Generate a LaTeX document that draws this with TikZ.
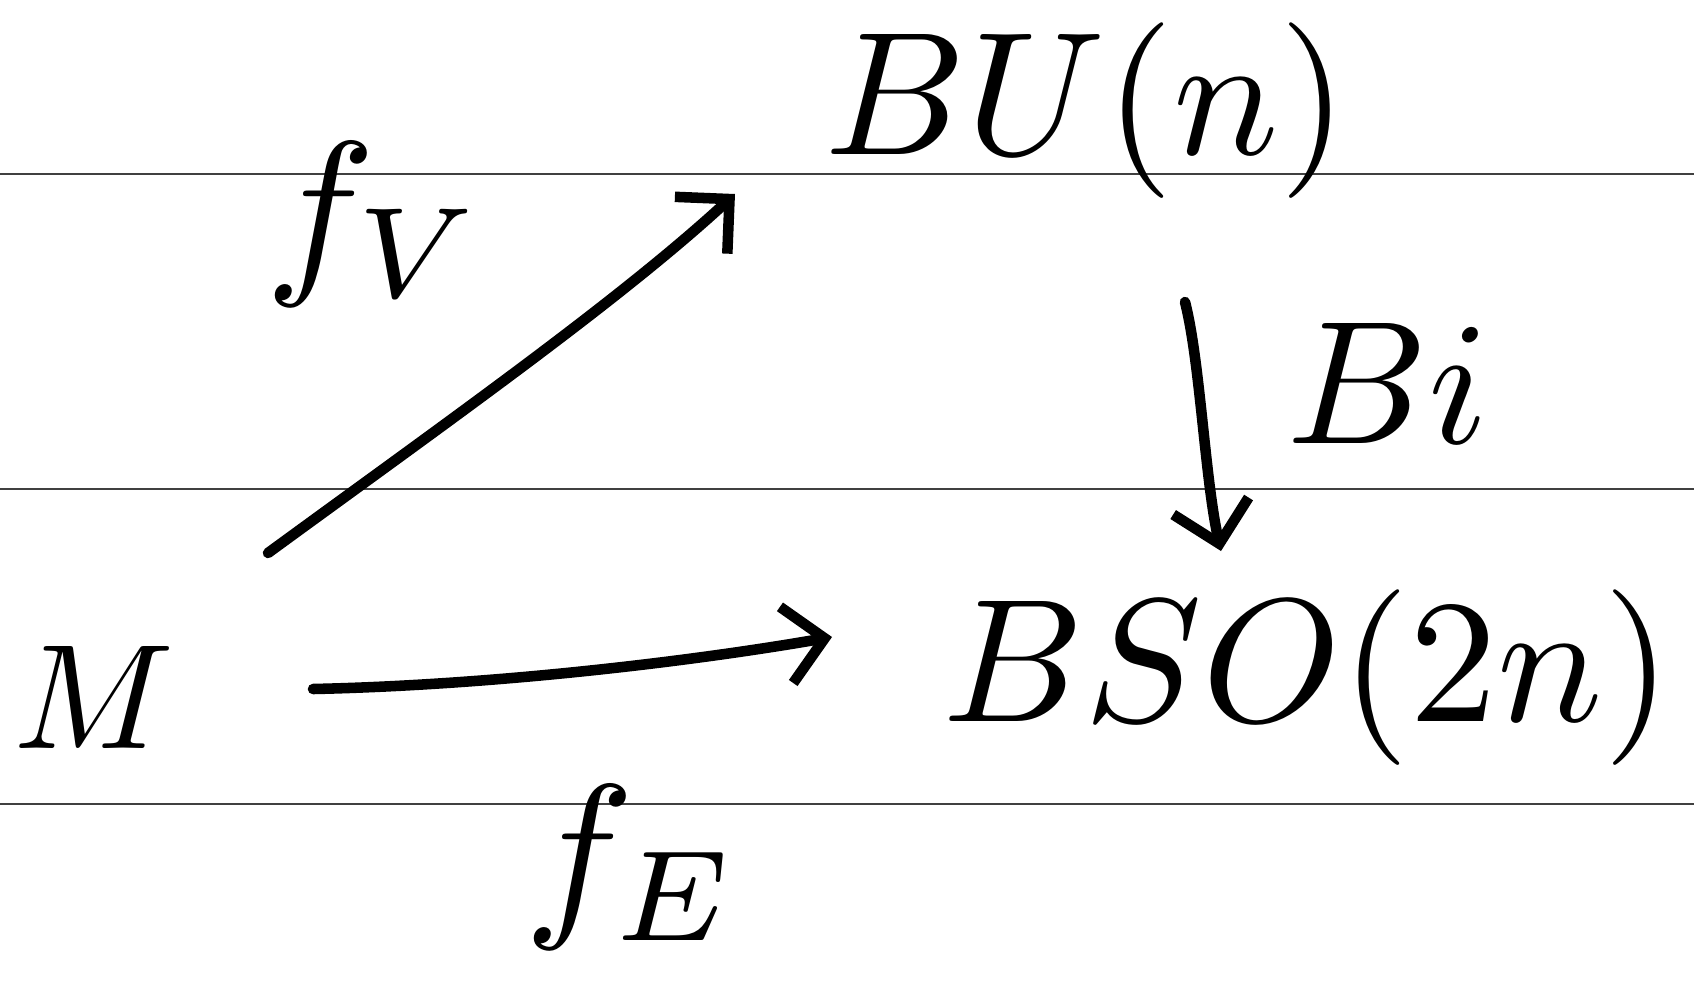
\documentclass[tikz,border=0pt]{standalone}
\usetikzlibrary{arrows.meta}
\begin{document}
\begin{tikzpicture}[x=0.02cm,y=-0.02cm,
  rule/.style={draw=black!75,line width=1.2pt},
  lbl/.style={inner sep=0pt,scale=10},
  bigf/.style={inner sep=0pt,scale=10.5},
  arr/.style={line width=6pt,line cap=round,line join=round,-{Straight Barb[length=22pt,width=44pt,line width=6pt]}}]
\useasboundingbox (0,0) rectangle (1694,1005);
\draw[rule] (0,174) -- (1694,174);
\draw[rule] (0,489) -- (1694,489);
\draw[rule] (0,804) -- (1694,804);
\node[inner sep=0pt,scale=8.5] (M) at (94,697) {$M$};
\node[lbl] (BU) at (1086,111) {$BU(n)$};
\node[lbl] (BSO) at (1307,678) {$BSO(2n)$};
\node[bigf] (fV) at (375,224) {$f_V$};
\node[bigf] (fE) at (632,867) {$f_E$};
\node[lbl] (Bi) at (1388,383) {$Bi$};
\coordinate (d1) at (268,553);
\coordinate (d2) at (735,194);
\coordinate (h1) at (313,689);
\coordinate (h2) at (832,637);
\coordinate (v1) at (1185,302);
\coordinate (v2) at (1221,551);
\draw[arr] (d1) .. controls (450,420) and (620,300) .. (d2);
\draw[arr] (h1) .. controls (500,685) and (700,660) .. (h2);
\draw[arr] (v1) .. controls (1200,360) and (1205,480) .. (v2);
\end{tikzpicture}
\end{document}
